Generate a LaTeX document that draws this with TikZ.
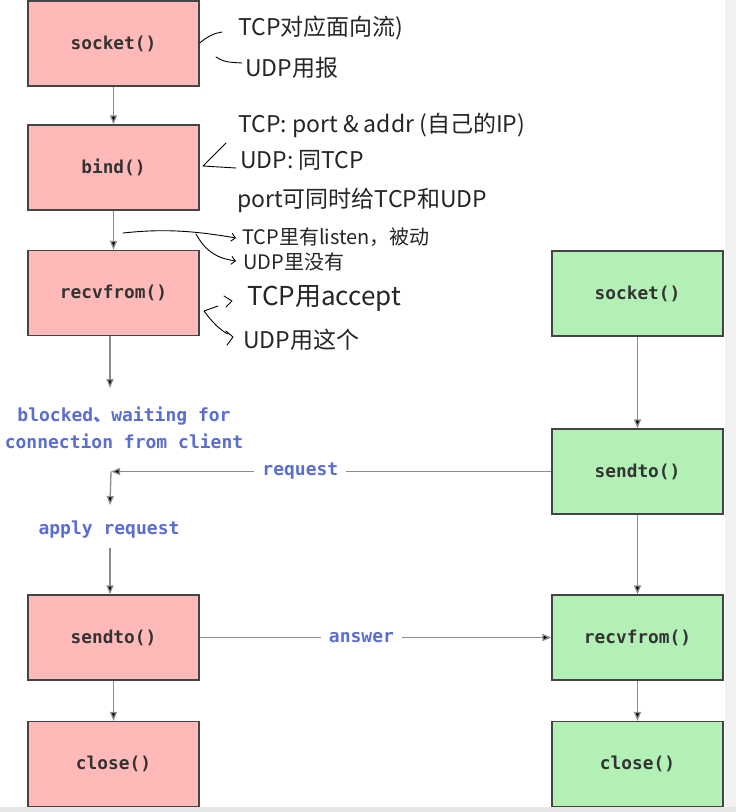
\documentclass[tikz,border=0pt]{standalone}
\usepackage{fontspec}
\setmonofont{DejaVu Sans Mono}
\newfontfamily\cjk{Noto Sans CJK SC}
\usetikzlibrary{arrows.meta, calc, positioning}

\definecolor{srvfill}{HTML}{FFB9B9}
\definecolor{clifill}{HTML}{B3F0B6}
\definecolor{boxline}{HTML}{444444}
\definecolor{flowgray}{HTML}{8C8C8C}
\definecolor{stepblue}{HTML}{5A6ED0}

\begin{document}
\begin{tikzpicture}[x=1pt, y=-1pt, >={Triangle[length=9pt, width=7pt]},
    call/.style={draw=boxline, line width=1.3pt, minimum width=171pt, minimum height=85pt,
        font=\ttfamily\bfseries\fontsize{17.8}{20}\selectfont, text=black!80},
    srv/.style={call, fill=srvfill},
    cli/.style={call, fill=clifill},
    flow/.style={draw=flowgray, line width=1.3pt},
    says/.style={font=\ttfamily\bfseries\fontsize{18}{27}\selectfont, text=stepblue},
    tag/.style={says, fill=white, inner xsep=8pt, inner ysep=2pt},
    pen/.style={line width=0.9pt, line cap=round, line join=round},
    scrawl/.style={anchor=west, inner sep=0pt, text=black!85, font=\cjk\fontsize{23}{25}\selectfont}]

    % page
    \fill[white] (0,0) rectangle (736,812);
    \fill[black!5] (725,0) rectangle (736,812);
    \fill[black!10] (0,807) rectangle (736,812);
    \useasboundingbox (0,0) rectangle (736,812);

    % server side
    \node[srv] (sSock) at (113.5, 43.5) {socket()};
    \node[srv] (sBind) at (113.5, 167.5) {bind()};
    \node[srv] (sRecv) at (113.5, 293) {recvfrom()};
    \node[srv] (sSend) at (113.5, 637.5) {sendto()};
    \node[srv] (sClose) at (113.5, 764) {close()};

    % client side
    \node[cli] (cSock) at (637.5, 293.5) {socket()};
    \node[cli] (cSend) at (637.5, 471.5) {sendto()};
    \node[cli] (cRecv) at (637.5, 637.5) {recvfrom()};
    \node[cli] (cClose) at (637.5, 764) {close()};

    \node[says, align=center] (blocked) at (124, 428) {blocked{\cjk 、}waiting for\\connection from client};
    \node[says] (apply) at (109, 530) {apply request};

    \coordinate (wait) at (110, 388);
    \coordinate (hit) at (111, 471.5);
    \coordinate (next) at (110, 505);
    \coordinate (go) at (110, 548);

    \draw[flow]
    (sSock) edge[->] (sBind)
    (sBind) edge[->] (sRecv)
    (sRecv.south -| wait) edge[->] (wait)
    (cSend) edge[->] node[tag, pos=0.57] {request} (hit)
    (hit) edge[->] (next)
    (go) edge[->] (sSend.north -| go)
    (sSend) edge[->] (sClose)
    (sSend) edge[->] node[tag, pos=0.46] {answer} (cRecv)
    (cSock) edge[->] (cSend)
    (cSend) edge[->] (cRecv)
    (cRecv) edge[->] (cClose);

    % handwritten notes
    \node[scrawl] (n1) at (238, 28) {TCP对应面向流)};
    \node[scrawl] (n2) at (245, 68) {UDP用报};
    \node[scrawl] (n3) at (238, 125) {TCP: port \& addr (自己的IP)};
    \node[scrawl] (n4) at (240, 160) {UDP: 同TCP};
    \node[scrawl] (n5) at (237, 200) {port可同时给TCP和UDP};
    \node[scrawl, font=\cjk\fontsize{20}{22}\selectfont] (n6) at (242, 237) {TCP里有listen，被动};
    \node[scrawl, font=\cjk\fontsize{20}{22}\selectfont] (n7) at (243, 262) {UDP里没有};
    \node[scrawl, font=\cjk\fontsize{26}{28}\selectfont] (n8) at (247, 298) {TCP用accept};
    \node[scrawl] (n9) at (243, 340) {UDP用这个};

    \draw[pen] (sSock.east |- 0,43) .. controls (208,36) and (215,33) .. (222,32);
    \draw[pen] (216,57) .. controls (225,62) .. (242,63);
    \draw[pen] (226,143) -- (203,166) -- (236,168);
    \draw[pen, -{Straight Barb[length=4pt]}] (123,233) .. controls (160,229) and (190,230) .. (236,238);
    \draw[pen, -{Straight Barb[length=4pt]}] (196,234) .. controls (205,250) and (215,258) .. (236,261);
    \draw[pen] (218,306) -- (204,311) .. controls (212,322) and (220,330) .. (228,334);
    \draw[pen] (224,296) -- (232,301) -- (226,307);
    \draw[pen] (226,331) -- (233,337) -- (227,345);
\end{tikzpicture}
\end{document}
